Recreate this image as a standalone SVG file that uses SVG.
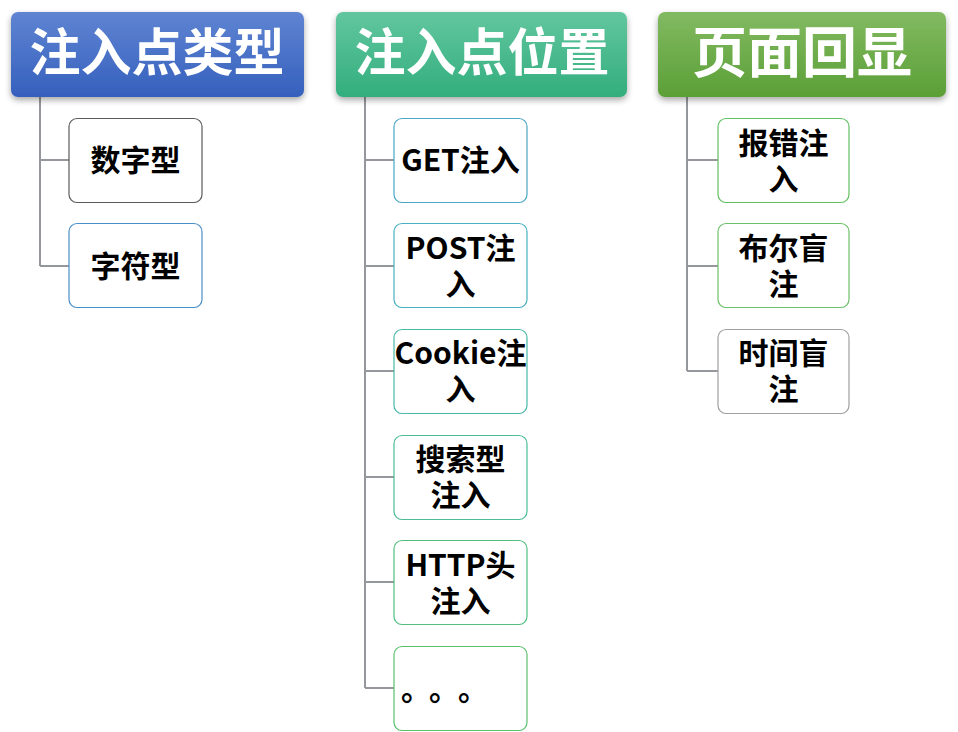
<svg xmlns="http://www.w3.org/2000/svg" width="958" height="732" viewBox="0 0 958 732">
<defs>
<linearGradient id="gBlue" x1="0" y1="0" x2="0" y2="1"><stop offset="0" stop-color="#5f84d2"/><stop offset="1" stop-color="#3560bd"/></linearGradient>
<linearGradient id="gTeal" x1="0" y1="0" x2="0" y2="1"><stop offset="0" stop-color="#62c69f"/><stop offset="1" stop-color="#33ae7d"/></linearGradient>
<linearGradient id="gGreen" x1="0" y1="0" x2="0" y2="1"><stop offset="0" stop-color="#82ba62"/><stop offset="1" stop-color="#5b9f36"/></linearGradient>
<filter id="sh" x="-10%" y="-20%" width="120%" height="150%"><feDropShadow dx="0" dy="3" stdDeviation="3" flood-color="#000" flood-opacity="0.35"/></filter>
</defs>
<style>
.hd{font-family:"Noto Sans CJK SC","Noto Sans",sans-serif;font-weight:bold;fill:#fff;text-anchor:middle}
.lb{font-family:"Noto Sans CJK SC","Noto Sans",sans-serif;font-weight:bold;font-size:30px;fill:#000;text-anchor:middle}
.box{fill:#fff;stroke-width:1.2}
.cn{fill:none;stroke:#94979b;stroke-width:2}
</style>
<rect width="958" height="732" fill="#fff"/>
<g id="connectors">
<path class="cn" d="M40 97V266M40 160H69M40 266H69"/>
<path class="cn" d="M365 97V688M365 160H394M365 266H394M365 371H394M365 477H394M365 582H394M365 688H394"/>
<path class="cn" d="M687 97V371M687 160H718M687 266H718M687 371H718"/>
</g>
<g id="h1"><rect x="11" y="12" width="293" height="85" rx="7" fill="url(#gBlue)" filter="url(#sh)"/><text class="hd" x="157" y="71" font-size="51">注入点类型</text></g>
<g id="h2"><rect x="336" y="12" width="291" height="85" rx="7" fill="url(#gTeal)" filter="url(#sh)"/><text class="hd" x="482" y="71" font-size="51">注入点位置</text></g>
<g id="h3"><rect x="658" y="12" width="288" height="85" rx="7" fill="url(#gGreen)" filter="url(#sh)"/><text class="hd" x="802" y="72" font-size="55">页面回显</text></g>

<g id="n1"><rect class="box" x="69" y="118.5" width="133" height="84" rx="8" stroke="#5a5a5a"/><text class="lb" x="135.5" y="171">数字型</text></g>
<g id="n2"><rect class="box" x="69" y="223.5" width="133" height="84" rx="8" stroke="#4a8fc8"/><text class="lb" x="135.5" y="277">字符型</text></g>

<g id="n3"><rect class="box" x="394" y="118.5" width="133" height="84" rx="8" stroke="#4aa6c4"/><text class="lb" x="460.5" y="171">GET注入</text></g>
<g id="n4"><rect class="box" x="394" y="223.5" width="133" height="84" rx="8" stroke="#48b0c0"/><text class="lb"><tspan x="460.5" y="259">POST注</tspan><tspan x="460.5" y="295">入</tspan></text></g>
<g id="n5"><rect class="box" x="394" y="329.5" width="133" height="84" rx="8" stroke="#48b8a8"/><text class="lb"><tspan x="460.5" y="364">Cookie注</tspan><tspan x="460.5" y="400">入</tspan></text></g>
<g id="n6"><rect class="box" x="394" y="435.5" width="133" height="84" rx="8" stroke="#4cbc98"/><text class="lb"><tspan x="460.5" y="470">搜索型</tspan><tspan x="460.5" y="506">注入</tspan></text></g>
<g id="n7"><rect class="box" x="394" y="540.5" width="133" height="84" rx="8" stroke="#52be80"/><text class="lb"><tspan x="460.5" y="576">HTTP头</tspan><tspan x="460.5" y="612">注入</tspan></text></g>
<g id="n8"><rect class="box" x="394" y="646.5" width="133" height="84" rx="8" stroke="#5ac06c"/><text class="lb" x="401 429 458" y="700" style="text-anchor:start">。。。</text></g>

<g id="n9"><rect class="box" x="718" y="118.5" width="131" height="84" rx="8" stroke="#60c060"/><text class="lb"><tspan x="783.5" y="154">报错注</tspan><tspan x="783.5" y="190">入</tspan></text></g>
<g id="n10"><rect class="box" x="718" y="223.5" width="131" height="84" rx="8" stroke="#6cc068"/><text class="lb"><tspan x="783.5" y="259">布尔盲</tspan><tspan x="783.5" y="295">注</tspan></text></g>
<g id="n11"><rect class="box" x="718" y="329.5" width="131" height="84" rx="8" stroke="#a0a0a0"/><text class="lb"><tspan x="783.5" y="364">时间盲</tspan><tspan x="783.5" y="400">注</tspan></text></g>
</svg>
